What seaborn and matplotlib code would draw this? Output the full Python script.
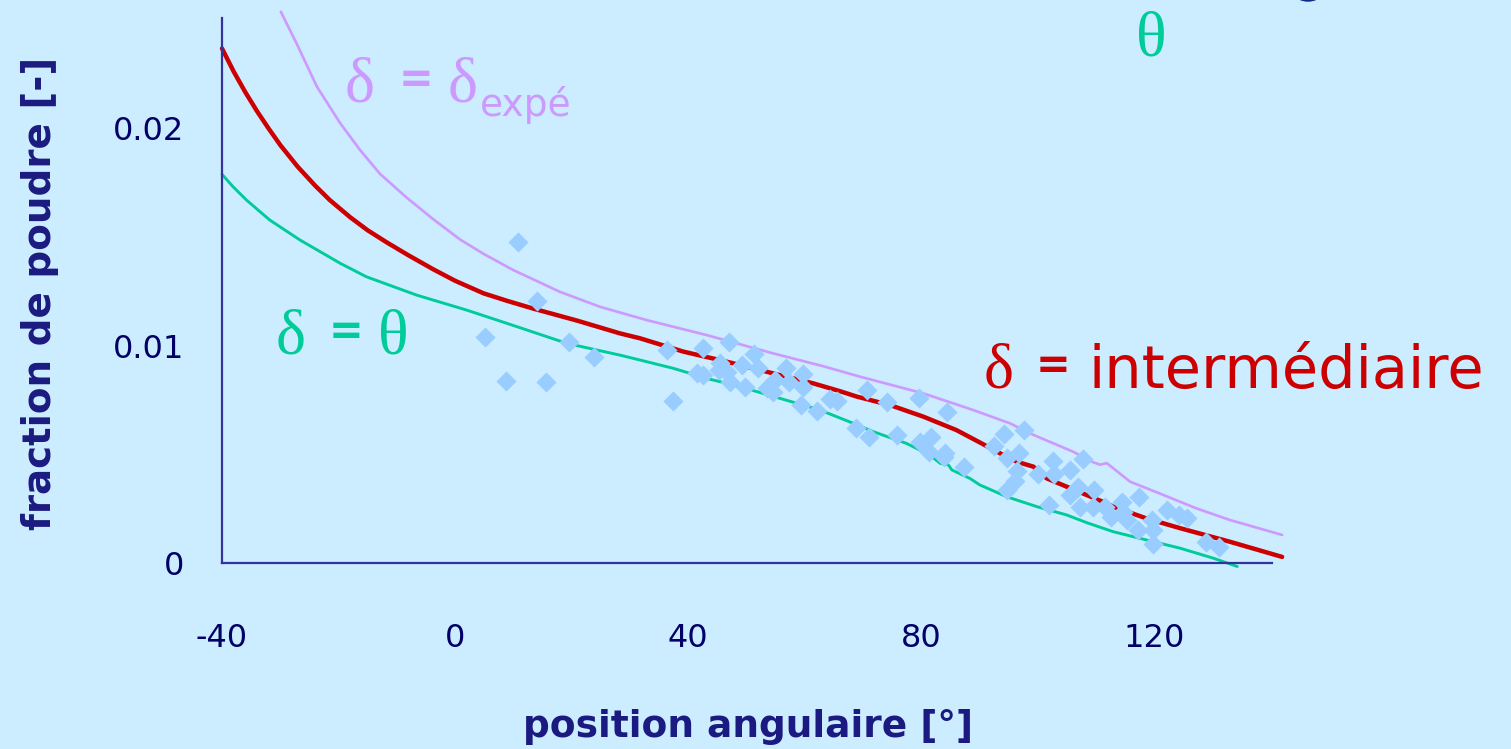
import matplotlib
matplotlib.use("Agg")
import matplotlib.pyplot as plt
from matplotlib.patches import Ellipse
import numpy as np
import pandas as pd
import seaborn as sns

#%% data
# delta = intermediaire (red)
red_x = [-40.0, -38.0, -36.0, -34.0, -32.0, -30.0, -27.0, -24.0, -21.5, -18.0, -15.0,
         -11.7, -8.0, -3.7, 0.0, 4.9, 9.0, 13.4, 20.9, 28.3, 31.8, 39.2, 46.6, 54.6, 61.5,
         66.1, 69.0, 74.7, 80.4, 86.1, 90.4, 93.6, 96.4, 99.3, 101.6, 105.0, 108.4,
         111.9, 113.0, 118.7, 124.5, 133.0, 142.0]
red_y = [0.02366, 0.02260, 0.02165, 0.02078, 0.01998, 0.01922, 0.01822, 0.01735, 0.01669,
         0.01590, 0.01530, 0.01474, 0.01415, 0.01350, 0.01298, 0.01240, 0.01205, 0.01170,
         0.01115, 0.01056, 0.01033, 0.00972, 0.00926, 0.00872, 0.00826, 0.00790, 0.00765,
         0.00726, 0.00673, 0.00611, 0.00550, 0.00504, 0.00466, 0.00443, 0.00389, 0.00351,
         0.00313, 0.00274, 0.00259, 0.00205, 0.00160, 0.00098, 0.00028]

# delta = delta expe (violet)
vio_x = [-29.9, -27.2, -23.7, -19.7, -16.3, -12.9, -8.3, -3.7, 0.9, 5.0, 10.0, 18.0,
         24.9, 32.9, 43.2, 54.6, 63.2, 69.5, 80.4, 89.0, 95.3, 98.7, 106.1, 109.3,
         110.7, 111.9, 115.9, 121.6, 127.3, 133.0, 142.0]
vio_y = [0.02535, 0.02389, 0.02190, 0.02022, 0.01899, 0.01790, 0.01680, 0.01580, 0.01487,
         0.01420, 0.01347, 0.01247, 0.01178, 0.01117, 0.01048, 0.00964, 0.00905, 0.00857,
         0.00780, 0.00703, 0.00642, 0.00596, 0.00512, 0.00466, 0.00452, 0.00459, 0.00374,
         0.00313, 0.00251, 0.00198, 0.00129]

# delta = theta (green)
grn_x = [-40.0, -38.1, -35.8, -31.8, -26.6, -19.7, -15.2, -6.6, 2.0, 10.6, 19.2, 28.3,
         31.8, 37.5, 43.2, 48.9, 55.8, 62.7, 68.4, 71.8, 77.5, 81.5, 83.3, 84.7, 85.3,
         88.4, 90.1, 94.7, 99.9, 105.0, 108.5, 113.0, 118.7, 124.5, 130.2, 134.3]
grn_y = [0.01787, 0.01730, 0.01669, 0.01577, 0.01485, 0.01378, 0.01316, 0.01232, 0.01163,
         0.01087, 0.01010, 0.00956, 0.00933, 0.00895, 0.00849, 0.00811, 0.00757, 0.00703,
         0.00642, 0.00604, 0.00550, 0.00497, 0.00458, 0.00451, 0.00428, 0.00389, 0.00359,
         0.00305, 0.00259, 0.00221, 0.00185, 0.00144, 0.00106, 0.00068, 0.00022, -0.00016]

# mesures (diamonds)
pts_x = [10.9, 14.0, 5.2, 19.5, 23.9, 8.8, 15.6,
         36.4, 42.6, 47.1, 51.4, 37.5, 41.6, 42.6, 45.5, 45.4, 46.7, 47.2, 49.2, 49.8,
         52.1, 53.5, 54.6, 54.9, 56.9, 57.4, 59.7, 59.7, 59.4, 62.1, 64.3, 65.5, 68.8,
         70.7, 74.2, 79.7, 84.4, 71.1, 75.8, 79.8, 81.7, 81.4, 84.1, 84.0, 87.4, 92.5,
         94.2, 94.7, 97.6, 96.9, 96.5, 96.1, 94.7, 100.1, 102.6, 102.8, 105.6, 107.8,
         101.9, 105.6, 107.0, 109.7, 107.3, 109.6, 111.6,
         114.5, 117.5, 112.7, 114.7, 115.3, 117.3, 119.6, 119.9, 119.9, 122.3, 124.3,
         125.7, 129.0, 131.2]
pts_y = [0.01474, 0.01205, 0.01038, 0.01018, 0.00949, 0.00838, 0.00834,
         0.00979, 0.00987, 0.01018, 0.00961, 0.00746, 0.00875, 0.00864, 0.00918, 0.00887,
         0.00880, 0.00834, 0.00910, 0.00811, 0.00895, 0.00803, 0.00788, 0.00841, 0.00895,
         0.00834, 0.00869, 0.00811, 0.00726, 0.00700, 0.00753, 0.00746, 0.00619,
         0.00795, 0.00739, 0.00757, 0.00696, 0.00581, 0.00589, 0.00558, 0.00581, 0.00512,
         0.00504, 0.00486, 0.00440, 0.00538, 0.00593, 0.00481, 0.00611, 0.00504, 0.00423,
         0.00377, 0.00336, 0.00408, 0.00470, 0.00409, 0.00428, 0.00478,
         0.00267, 0.00313, 0.00348, 0.00336, 0.00256, 0.00256, 0.00259,
         0.00282, 0.00302, 0.00210, 0.00236, 0.00198, 0.00152, 0.00198, 0.00152, 0.00087,
         0.00244, 0.00221, 0.00205, 0.00098, 0.00072]

xticks = [-40, 0, 40, 80, 120]
xtick_labels = ['-40', '0', '40', '80', '120']
yticks = [0, 0.01, 0.02]
ytick_labels = ['0', '0.01', '0.02']

#%% style
bg = '#CCECFF'
axis_col = '#333399'
navy = '#000066'
c_red = '#CC0000'
c_vio = '#CC99FF'
c_grn = '#00CC99'
c_pts = '#99CCFF'

sns.set_style('white', rc={'axes.facecolor': bg, 'figure.facecolor': bg,
                           'axes.edgecolor': axis_col})
plt.rcParams['font.family'] = ['DejaVu Sans']
plt.rcParams['axes.unicode_minus'] = False

W, H = 1511, 749
fig = plt.figure(figsize=(W / 100, H / 100), dpi=100)
ax = fig.add_axes([222 / W, 1 - 563 / H, (1272 - 222) / W, (563 - 18) / H])

sns.lineplot(x=grn_x, y=grn_y, sort=False, estimator=None, color=c_grn, lw=2.1,
             clip_on=False, ax=ax)
sns.lineplot(x=vio_x, y=vio_y, sort=False, estimator=None, color=c_vio, lw=1.9,
             clip_on=False, ax=ax)
sns.lineplot(x=red_x, y=red_y, sort=False, estimator=None, color=c_red, lw=3.2,
             clip_on=False, ax=ax)
sns.scatterplot(x=pts_x, y=pts_y, marker='D', s=105, color=c_pts, linewidth=0,
                zorder=5, ax=ax)

ax.set_xlim(-40, 140.26)
ax.set_ylim(0, 0.02506)
ax.set_xticks(xticks)
ax.set_xticklabels(xtick_labels)
ax.set_yticks(yticks)
ax.set_yticklabels(ytick_labels)
for side in ['top', 'right']:
    ax.spines[side].set_visible(False)
for side in ['left', 'bottom']:
    ax.spines[side].set_linewidth(1.6)
    ax.spines[side].set_color(axis_col)
ax.tick_params(axis='both', direction='out', width=1.5, color=axis_col,
               labelcolor=navy, labelsize=23)
ax.tick_params(axis='x', length=10, pad=33)
ax.tick_params(axis='y', length=11, pad=16)

ax.set_xlabel('position angulaire [°]', fontsize=27, fontweight='bold', color='#1a1a80')
ax.set_ylabel('fraction de poudre [-]', fontsize=28, fontweight='bold', color='#1a1a80')
ax.xaxis.set_label_coords((748 - 222) / 1050, (563 - 727) / 545)
ax.xaxis.label.set_va('center')
ax.yaxis.set_label_coords((40 - 222) / 1050, (563 - 293) / 545)
ax.yaxis.label.set_va('center')


def put(px, py, s, color, size, family='DejaVu Sans', weight='normal', va='baseline'):
    fig.text(px / W, 1 - py / H, s, color=color, fontsize=size, family=family,
             fontweight=weight, ha='left', va=va)


serif = 'Liberation Serif'
# delta = delta expe
put(345, 101, 'δ', c_vio, 46, serif)
put(399, 80, '=', c_vio, 30, weight='bold', va='center')
put(448, 101, 'δ', c_vio, 46, serif)
put(480, 116, 'expé', c_vio, 27)
# theta
put(1136, 55, 'θ', c_grn, 46, serif)
# delta = theta
put(276, 354, 'δ', c_grn, 46, serif)
put(329, 332, '=', c_grn, 30, weight='bold', va='center')
put(378, 354, 'θ', c_grn, 46, serif)
# delta = intermediaire
put(984, 388, 'δ', c_red, 46, serif)
put(1036, 366, '=', c_red, 30, weight='bold', va='center')
put(1089, 388, 'intermédiaire', c_red, 42.5)

# bout de forme bleue coupée en haut
fig.patches.append(Ellipse((1308 / W, 1 + 25 / H), 46 / W, 52 / H,
                           transform=fig.transFigure, color='#0a2a8a'))

fig.savefig('out.png', dpi=100, facecolor=bg)
